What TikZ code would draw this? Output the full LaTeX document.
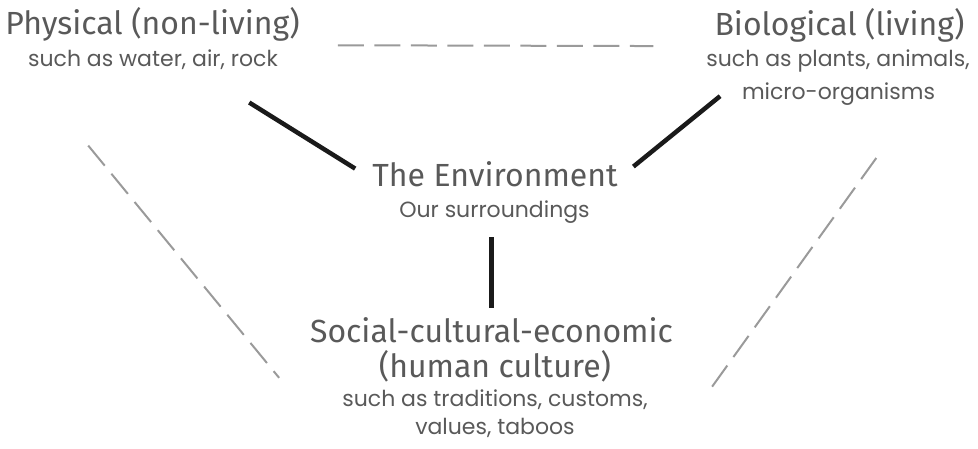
\documentclass[tikz,border=0pt]{standalone}
\usepackage{fontspec}
\setmainfont{Poppins}
\newfontfamily\headfont{Fira Sans}
\definecolor{txtgray}{HTML}{595959}
\definecolor{dashgray}{HTML}{9A9A9A}
\definecolor{barblack}{HTML}{1A1A1A}
\begin{document}
\begin{tikzpicture}[x=1pt,y=1pt,
	head/.style={anchor=base,inner sep=0pt,text height=22pt,text depth=7pt,text=txtgray,font=\headfont\fontsize{32}{38}\selectfont},
	sub/.style={anchor=base,inner sep=0pt,text height=16pt,text depth=5pt,text=txtgray,font=\fontsize{22}{26}\selectfont},
	bar/.style={line width=4.5pt,color=barblack},
	dashline/.style={line width=2pt,color=dashgray,dash pattern=on 26pt off 10.5pt}]
		\useasboundingbox (0,0) rectangle (978,449);
		\node[head] (physhead) at (152.5,414) {Physical (non-living)};
		\node[sub] (physsub) at (153,382) {such as water, air, rock};
		\node[head] (biohead) at (839.5,413) {Biological (living)};
		\node[sub] (bio1) at (838,382) {such as plants, animals,};
		\node[sub] (bio2) at (838.5,349) {micro-organisms};
		\node[head] (envhead) at (495,262.3) {The Environment};
		\node[sub] (envsub) at (494.5,231) {Our surroundings};
		\node[head] (sochead) at (491.5,106) {Social-cultural-economic};
		\node[head] (soc2) at (495,71) {(human culture)};
		\node[sub] (socsub1) at (495,42.5) {such as traditions, customs,};
		\node[sub] (socsub2) at (495,14) {values, taboos};
		\draw[bar,shorten <=20pt,shorten >=114pt] (envhead.west) -- (physhead.south);
		\draw[bar,shorten <=20pt,shorten >=28pt] (envhead.east) -- ([yshift=16pt]bio2.west);
		\draw[bar,shorten <=14pt,shorten >=13pt] (sochead.north |- envsub.south) -- (sochead.north);
		\draw[dashline,shorten <=38pt,shorten >=61pt] ([yshift=-3pt]physhead.south east) -- ([yshift=-3pt]biohead.south west);
		\draw[dashline,shorten <=95pt,shorten >=30pt] (physsub.south west) -- ([xshift=-44pt]socsub1.west);
		\draw[dashline,shorten <=65pt,shorten >=16pt] ([xshift=-21pt]bio2.south east) -- ([xshift=54pt]socsub1.east);
\end{tikzpicture}
\end{document}
